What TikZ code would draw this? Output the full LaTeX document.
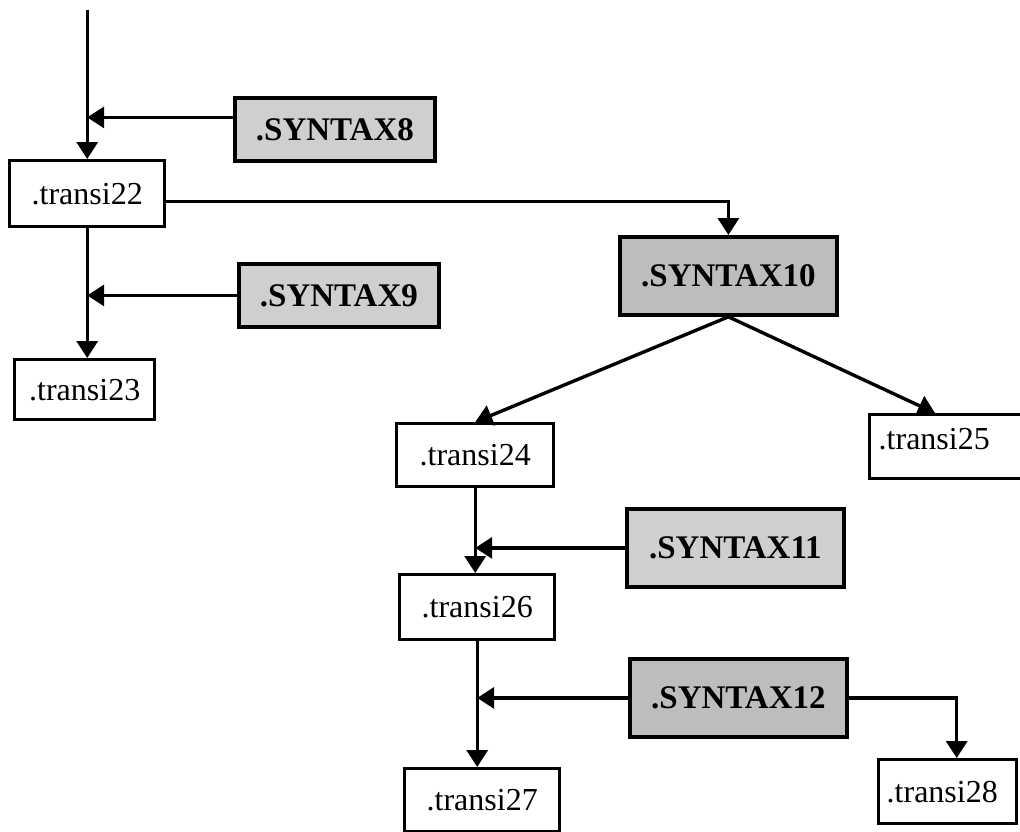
\documentclass[tikz,border=0pt]{standalone}
\usepackage{fontspec}
\setmainfont{Liberation Serif}
\usetikzlibrary{arrows.meta,calc}
\begin{document}
\begin{tikzpicture}[x=0.5pt,y=-0.5pt,
  tbox/.style={draw, line width=1.7pt, fill=white, inner sep=0pt, anchor=north west,
               font=\fontsize{16}{19}\selectfont},
  sbox/.style={draw, line width=1.9pt, inner sep=0pt, anchor=north west,
               font=\fontsize{16.5}{20}\selectfont\bfseries},
  light/.style={fill=gray!38},
  dark/.style={fill=gray!52},
  link/.style={line width=1.7pt, -{Triangle[length=8.5pt,width=10.5pt]}}]
\useasboundingbox (0,0) rectangle (1020,831);

% transition boxes
\node[tbox, minimum width=77.5pt, minimum height=33pt] (t22) at (8,159) {.transi22};
\node[tbox, minimum width=70pt, minimum height=30pt] (t23) at (13,358) {.transi23};
\node[tbox, minimum width=78.5pt, minimum height=31.5pt] (t24) at (395,422) {.transi24};
\node[tbox, inner xsep=4.5pt, text width=77pt, align=left,
      text height=17.5pt, text depth=14.5pt] (t25) at (868,413) {.transi25};
\node[tbox, minimum width=77.5pt, minimum height=32.5pt] (t26) at (398,573) {.transi26};
\node[tbox, minimum width=77.5pt, minimum height=31.5pt] (t27) at (403,767) {.transi27};
\node[tbox, inner xsep=4pt, text width=61pt, align=left,
      minimum height=32pt] (t28) at (877,758) {.transi28};

% syntax boxes
\node[sbox, light, minimum width=100pt, minimum height=31.5pt] (s8) at (233,96) {.SYNTAX8};
\node[sbox, light, minimum width=100pt, minimum height=31.5pt] (s9) at (237,262) {.SYNTAX9};
\node[sbox, dark, minimum width=108.5pt, minimum height=39pt] (s10) at (618,235) {.SYNTAX10};
\node[sbox, light, minimum width=108.5pt, minimum height=39pt] (s11) at (625,507) {.SYNTAX11};
\node[sbox, dark, minimum width=108.5pt, minimum height=39pt] (s12) at (628,657) {.SYNTAX12};

% connectors
\coordinate (entry) at (t22.north |- 0,10);
\coordinate (s8out) at ($(s8.west)+(0,-12)$);
\coordinate (t22out) at ($(t22.east)+(0,8)$);
\coordinate (t25in) at ($(t25.north west)+(67,0)$);
\coordinate (t28in) at ($(t28.north)+(9,0)$);

\draw[link] (entry) -- (t22.north);
\draw[link] (s8out) -- (s8out -| t22.north);
\draw[link] (t22.south) -- (t22.south |- t23.north);
\draw[link] (s9.west) -- (s9.west -| t22.south);
\draw[link] (t22out) -| (s10.north);
\draw[link] (s10.south) -- (t24.north);
\draw[link] (s10.south) -- (t25in);
\draw[link] (t24.south) -- (t24.south |- t26.north);
\draw[link] (s11.west) -- (s11.west -| t24.south);
\draw[link] (t26.south) -- (t26.south |- t27.north);
\draw[link] (s12.west) -- (s12.west -| t26.south);
\draw[link] (s12.east) -| (t28in);
\end{tikzpicture}
\end{document}
